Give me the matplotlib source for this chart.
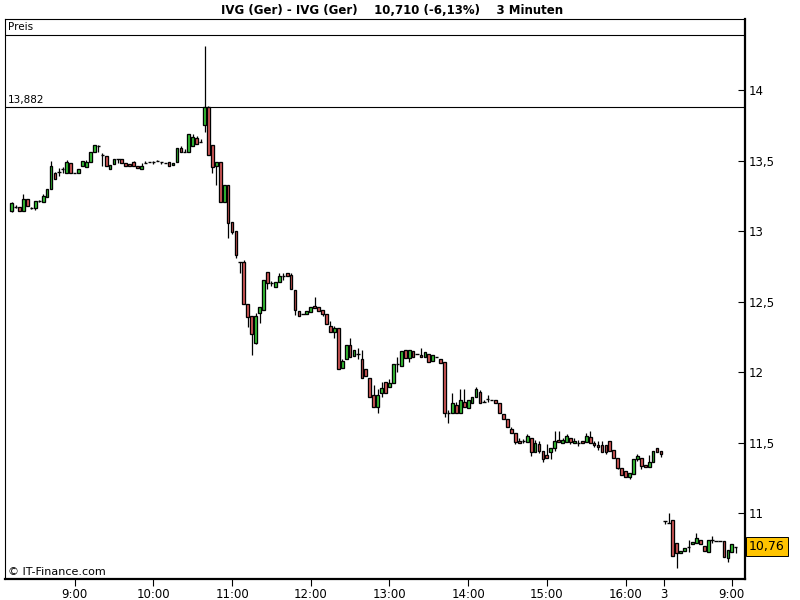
import numpy as np
import matplotlib
matplotlib.use("Agg")
import matplotlib.pyplot as plt
from matplotlib.transforms import blended_transform_factory

# 3-minute candles, IVG (Ger); day 1 starts 08:12, day 2 continues right after
opens = [
    13.142, 13.170, 13.170, 13.142, 13.227, 13.163, 13.163, 13.213, 13.206, 13.241,
    13.298, 13.411, 13.418, 13.440, 13.411, 13.482, 13.411, 13.411, 13.461, 13.454,
    13.489, 13.560, 13.603, 13.539, 13.532, 13.440, 13.475, 13.511, 13.511, 13.482,
    13.475, 13.489, 13.461, 13.440, 13.482, 13.489, 13.489, 13.496, 13.489, 13.482,
    13.489, 13.468, 13.489, 13.589, 13.560, 13.560, 13.603, 13.660, 13.631, 13.752,
    13.879, 13.610, 13.461, 13.489, 13.206, 13.326, 13.064, 13.000, 12.780, 12.780,
    12.482, 12.397, 12.206, 12.418, 12.440, 12.709, 12.631, 12.603, 12.638, 12.681,
    12.702, 12.688, 12.582, 12.433, 12.411, 12.411, 12.426, 12.468, 12.461, 12.440,
    12.411, 12.326, 12.284, 12.312, 12.028, 12.092, 12.192, 12.114, 12.128, 12.092,
    12.021, 11.957, 11.837, 11.752, 11.851, 11.929, 11.894, 11.922, 12.057, 12.043,
    12.156, 12.099, 12.149, 12.128, 12.121, 12.106, 12.128, 12.078, 12.106, 12.092,
    12.071, 11.709, 11.709, 11.766, 11.709, 11.787, 11.745, 11.780, 11.823, 11.858,
    11.787, 11.809, 11.801, 11.801, 11.780, 11.702, 11.667, 11.596, 11.567, 11.511,
    11.511, 11.504, 11.532, 11.433, 11.489, 11.440, 11.411, 11.433, 11.461, 11.518,
    11.496, 11.504, 11.532, 11.496, 11.496, 11.511, 11.504, 11.539, 11.496, 11.482,
    11.482, 11.482, 11.511, 11.447, 11.390, 11.319, 11.298, 11.255, 11.277, 11.383,
    11.390, 11.340, 11.326, 11.362, 11.461, 11.440, 10.943, 10.929, 10.950, 10.787,
    10.716, 10.730, 10.759, 10.780, 10.787, 10.809, 10.766, 10.723, 10.809, 10.801,
    10.801, 10.801, 10.681, 10.723, 10.759,
]
highs = [
    13.206, 13.184, 13.170, 13.262, 13.227, 13.170, 13.213, 13.220, 13.262, 13.298,
    13.496, 13.418, 13.447, 13.454, 13.504, 13.482, 13.411, 13.440, 13.496, 13.504,
    13.560, 13.610, 13.610, 13.553, 13.532, 13.468, 13.511, 13.511, 13.511, 13.482,
    13.475, 13.496, 13.461, 13.482, 13.496, 13.489, 13.496, 13.504, 13.489, 13.482,
    13.489, 13.482, 13.589, 13.603, 13.582, 13.688, 13.688, 13.674, 13.653, 14.312,
    13.887, 13.610, 13.489, 13.489, 13.326, 13.326, 13.064, 13.000, 12.780, 12.794,
    12.482, 12.397, 12.418, 12.461, 12.652, 12.709, 12.645, 12.638, 12.702, 12.702,
    12.702, 12.702, 12.582, 12.433, 12.411, 12.433, 12.461, 12.532, 12.461, 12.440,
    12.411, 12.362, 12.326, 12.312, 12.092, 12.192, 12.241, 12.156, 12.170, 12.156,
    12.021, 11.957, 11.908, 11.879, 11.929, 11.929, 11.950, 12.057, 12.106, 12.149,
    12.156, 12.156, 12.149, 12.128, 12.170, 12.142, 12.128, 12.121, 12.106, 12.092,
    12.071, 11.730, 11.851, 11.787, 11.879, 11.879, 11.801, 11.823, 11.894, 11.872,
    11.801, 11.837, 11.801, 11.801, 11.780, 11.702, 11.667, 11.610, 11.567, 11.532,
    11.525, 11.560, 11.532, 11.518, 11.511, 11.440, 11.489, 11.461, 11.582, 11.582,
    11.532, 11.560, 11.532, 11.532, 11.518, 11.511, 11.567, 11.582, 11.511, 11.511,
    11.511, 11.482, 11.511, 11.447, 11.390, 11.319, 11.298, 11.284, 11.383, 11.418,
    11.390, 11.340, 11.411, 11.440, 11.461, 11.440, 10.943, 11.000, 10.950, 10.787,
    10.730, 10.752, 10.809, 10.794, 10.858, 10.809, 10.766, 10.809, 10.837, 10.801,
    10.801, 10.801, 10.738, 10.780, 10.759,
]
lows = [
    13.135, 13.163, 13.142, 13.142, 13.177, 13.156, 13.149, 13.206, 13.206, 13.241,
    13.298, 13.369, 13.390, 13.411, 13.411, 13.411, 13.411, 13.411, 13.461, 13.454,
    13.489, 13.560, 13.560, 13.461, 13.461, 13.440, 13.475, 13.482, 13.482, 13.461,
    13.461, 13.461, 13.447, 13.440, 13.482, 13.489, 13.475, 13.496, 13.475, 13.482,
    13.461, 13.468, 13.489, 13.560, 13.560, 13.560, 13.603, 13.617, 13.631, 13.702,
    13.539, 13.411, 13.326, 13.206, 13.206, 12.950, 12.979, 12.809, 12.702, 12.482,
    12.319, 12.121, 12.199, 12.348, 12.440, 12.589, 12.610, 12.603, 12.638, 12.652,
    12.681, 12.589, 12.404, 12.397, 12.411, 12.411, 12.426, 12.454, 12.433, 12.397,
    12.340, 12.284, 12.241, 12.021, 12.028, 12.092, 12.106, 12.114, 12.092, 11.957,
    11.972, 11.823, 11.752, 11.709, 11.823, 11.851, 11.894, 11.922, 12.000, 12.043,
    12.099, 12.071, 12.106, 12.128, 12.106, 12.106, 12.071, 12.078, 12.106, 12.064,
    11.681, 11.638, 11.709, 11.709, 11.709, 11.752, 11.745, 11.780, 11.823, 11.780,
    11.787, 11.787, 11.801, 11.780, 11.709, 11.667, 11.610, 11.567, 11.489, 11.496,
    11.496, 11.504, 11.404, 11.433, 11.426, 11.362, 11.390, 11.383, 11.440, 11.504,
    11.496, 11.504, 11.489, 11.496, 11.475, 11.496, 11.504, 11.496, 11.468, 11.447,
    11.433, 11.418, 11.440, 11.390, 11.312, 11.270, 11.255, 11.241, 11.277, 11.369,
    11.312, 11.326, 11.326, 11.362, 11.433, 11.397, 10.922, 10.929, 10.695, 10.610,
    10.716, 10.730, 10.723, 10.780, 10.787, 10.780, 10.730, 10.723, 10.787, 10.801,
    10.801, 10.688, 10.652, 10.723, 10.716,
]
closes = [
    13.199, 13.170, 13.142, 13.227, 13.177, 13.163, 13.213, 13.213, 13.248, 13.298,
    13.461, 13.369, 13.418, 13.440, 13.489, 13.411, 13.411, 13.440, 13.496, 13.489,
    13.560, 13.610, 13.603, 13.539, 13.461, 13.468, 13.511, 13.511, 13.482, 13.461,
    13.461, 13.461, 13.447, 13.461, 13.482, 13.489, 13.489, 13.496, 13.489, 13.482,
    13.461, 13.482, 13.589, 13.560, 13.560, 13.688, 13.667, 13.617, 13.631, 13.879,
    13.539, 13.454, 13.489, 13.206, 13.326, 13.057, 12.993, 12.830, 12.780, 12.482,
    12.390, 12.270, 12.397, 12.461, 12.652, 12.631, 12.631, 12.638, 12.681, 12.681,
    12.681, 12.589, 12.440, 12.397, 12.411, 12.433, 12.461, 12.454, 12.433, 12.411,
    12.340, 12.284, 12.312, 12.021, 12.078, 12.192, 12.106, 12.156, 12.128, 11.957,
    11.972, 11.823, 11.752, 11.837, 11.887, 11.851, 11.922, 12.057, 12.057, 12.149,
    12.099, 12.156, 12.106, 12.128, 12.106, 12.142, 12.071, 12.121, 12.106, 12.064,
    11.709, 11.709, 11.780, 11.709, 11.801, 11.752, 11.801, 11.823, 11.879, 11.780,
    11.787, 11.809, 11.801, 11.780, 11.709, 11.667, 11.610, 11.567, 11.504, 11.496,
    11.511, 11.546, 11.433, 11.496, 11.440, 11.383, 11.390, 11.461, 11.511, 11.504,
    11.518, 11.546, 11.504, 11.511, 11.496, 11.496, 11.546, 11.496, 11.482, 11.468,
    11.433, 11.433, 11.440, 11.390, 11.319, 11.270, 11.255, 11.284, 11.383, 11.404,
    11.333, 11.326, 11.362, 11.440, 11.433, 11.418, 10.943, 10.929, 10.695, 10.716,
    10.730, 10.752, 10.759, 10.794, 10.823, 10.780, 10.730, 10.809, 10.809, 10.801,
    10.801, 10.688, 10.738, 10.780, 10.759,
]

bar_minutes = 3
day1_start = 8 * 60 + 12      # first candle of day 1
day2_start = 8 * 60 + 9       # first candle of day 2
day2_first = 166              # candle number where day 2 begins
day1_hours = [9, 10, 11, 12, 13, 14, 15, 16]
day2_label = "3"
ref_level = 13.882
last_price = 10.76
title = "IVG (Ger) - IVG (Ger)    10,710 (-6,13%)    3 Minuten"

o = np.array(opens); h = np.array(highs); l = np.array(lows); c = np.array(closes)
x = np.arange(len(o))

GREEN = "#38cc38"
RED = "#de5c5c"

fig = plt.figure(figsize=(8, 6), dpi=100)
ax = fig.add_axes([5 / 800, 21 / 600, 740 / 800, 560 / 600])

# wicks
ax.vlines(x, l, h, color="black", linewidth=0.9, zorder=2)

# bodies
up = c > o
down = c < o
flat = c == o
ax.bar(x[up], (c - o)[up], bottom=o[up], width=0.7, color=GREEN,
       edgecolor="black", linewidth=0.95, zorder=3)
ax.bar(x[down], (c - o)[down], bottom=o[down], width=0.7, color=RED,
       edgecolor="black", linewidth=0.95, zorder=3)
ax.hlines(o[flat], x[flat] - 0.42, x[flat] + 0.42, color="black", linewidth=1.0, zorder=3)

ax.set_xlim(-1.7, 186.35)
ax.set_ylim(10.532, 14.504)

# reference line + header row
ax.axhline(ref_level, color="black", linewidth=0.8, zorder=1)
ax.plot([0, 1], [0.9714, 0.9714], transform=ax.transAxes, color="black", linewidth=0.8)
ax.text(0.004, 0.9857, "Preis", transform=ax.transAxes, ha="left", va="center", fontsize=7.5)
tr = blended_transform_factory(ax.transAxes, ax.transData)
ax.text(0.004, ref_level + 0.012, "13,882", transform=tr, ha="left", va="bottom", fontsize=7.5)
ax.text(0.004, 0.0125, "\u00a9 IT-Finance.com", transform=ax.transAxes,
        ha="left", va="center", fontsize=8)

# x ticks
tick_pos = [(hh * 60 - day1_start) / bar_minutes for hh in day1_hours]
tick_lab = [f"{hh}:00" for hh in day1_hours]
tick_pos += [day2_first - 0.2, day2_first + (9 * 60 - day2_start) / bar_minutes]
tick_lab += [day2_label, "9:00"]
ax.set_xticks(tick_pos)
ax.set_xticklabels(tick_lab)
ax.tick_params(axis="x", direction="out", length=5, width=0.8, pad=1.5, labelsize=8.5)

# y ticks on the right
yt = [11, 11.5, 12, 12.5, 13, 13.5, 14]
ax.yaxis.tick_right()
ax.set_yticks(yt)
ax.set_yticklabels([f"{v:g}".replace(".", ",") for v in yt])
ax.tick_params(axis="y", direction="in", length=5, width=0.8, pad=3, labelsize=8.5)

for side in ["left", "top"]:
    ax.spines[side].set_linewidth(0.8)
for side in ["right", "bottom"]:
    ax.spines[side].set_linewidth(1.6)

# last price box
ax.text(1.0 + 4 / 740, last_price, f"{last_price:.2f}".replace(".", ","), transform=tr,
        ha="left", va="center", fontsize=9,
        bbox=dict(boxstyle="square,pad=0.25", facecolor="#ffc400", edgecolor="black", linewidth=0.7))

fig.text(0.49, 1 - 10 / 600, title, ha="center", va="center", fontsize=8.5, fontweight="bold")

fig.savefig("out.png", dpi=100)
